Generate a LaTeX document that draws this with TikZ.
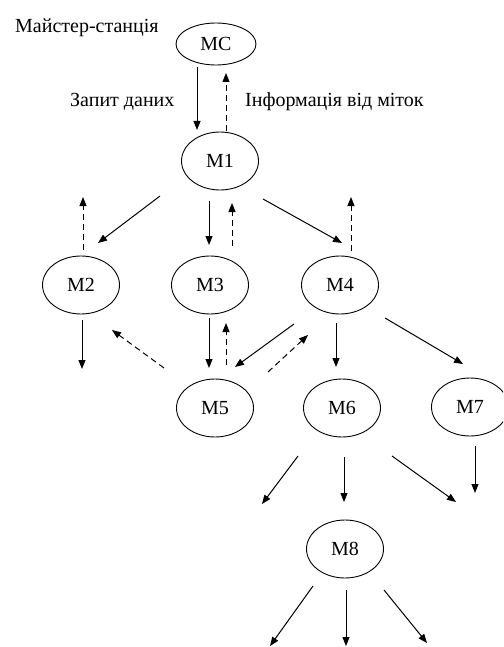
\documentclass[tikz,border=0pt]{standalone}
\usepackage{fontspec}
\setmainfont{Liberation Serif}
\usepackage{tikz}
\usetikzlibrary{shapes.geometric, arrows.meta, calc}

\begin{document}
\begin{tikzpicture}[x=1pt, y=-1pt,
    font=\fontsize{20}{23}\selectfont,
    tag/.style={draw, ellipse, line width=0.9pt, inner sep=0pt,
        minimum width=77pt, minimum height=58pt},
    label/.style={anchor=west, inner sep=0pt},
    req/.style={line width=1pt, -{Triangle[length=9pt,width=7pt]}},
    resp/.style={req, dash pattern=on 6pt off 4pt}]
    \useasboundingbox (0,0) rectangle (503,647);
    \clip (0,0) rectangle (503,647);

    \node[tag, minimum width=80pt, minimum height=42pt] (MC) at (216,44) {MC};
    \node[tag] (M1) at (220,161) {M1};
    \node[tag] (M2) at (81,285) {M2};
    \node[tag] (M3) at (210,285) {M3};
    \node[tag] (M4) at (340,285) {M4};
    \node[tag] (M5) at (215,408) {M5};
    \node[tag] (M6) at (342,408) {M6};
    \node[tag] (M7) at (470,407) {M7};
    \node[tag] (M8) at (345,549) {M8};

    \node[label] (master) at (15,28) {Майстер-станція};
    \node[label] (request) at (70,102) {Запит даних};
    \node[label] (info) at (245,102) {Інформація від міток};

    \coordinate (M2up) at (83,197);
    \coordinate (M2down) at (82,369);
    \coordinate (M4up) at (351,197);
    \coordinate (M6left) at (262,504);
    \coordinate (M6right) at (456,502);
    \coordinate (M7down) at (475,493);
    \coordinate (M8left) at (270,646);
    \coordinate (M8mid) at (346,646);
    \coordinate (M8right) at (427,643);

    \draw[req] ($(MC)+(-19,23)$) -- ($(M1)+(-23,-31)$);
    \draw[resp] ($(M1)+(6,-30)$) -- ($(MC)+(10,29)$);

    \draw[req] ($(M1)+(-60,35)$) -- ($(M2)+(17,-42)$);
    \draw[resp] ($(M2)+(2,-35)$) -- (M2up);
    \draw[req] ($(M1)+(-11,40)$) -- ($(M3)+(-1,-40)$);
    \draw[resp] ($(M3)+(22,-39)$) -- ($(M1)+(12,42)$);
    \draw[req] ($(M1)+(43,38)$) -- ($(M4)+(2,-42)$);
    \draw[resp] ($(M4)+(11,-34)$) -- (M4up);

    \draw[req] ($(M2)+(1,35)$) -- (M2down);
    \draw[resp] ($(M5)+(-51,-40)$) -- ($(M2)+(31,45)$);
    \draw[req] ($(M3)+(-1,33)$) -- ($(M5)+(-6,-40)$);
    \draw[resp] ($(M5)+(11,-43)$) -- ($(M3)+(16,38)$);
    \draw[req] ($(M4)+(-46,39)$) -- ($(M5)+(20,-41)$);
    \draw[resp] ($(M5)+(53,-36)$) -- ($(M4)+(-32,50)$);
    \draw[req] ($(M4)+(-4,38)$) -- ($(M6)+(-6,-41)$);
    \draw[req] ($(M4)+(45,33)$) -- ($(M7)+(-7,-43)$);

    \draw[req] ($(M6)+(-44,48)$) -- (M6left);
    \draw[req] ($(M6)+(2,49)$) -- ($(M8)+(-1,-47)$);
    \draw[req] ($(M6)+(50,48)$) -- (M6right);
    \draw[req] ($(M7)+(5,39)$) -- (M7down);

    \draw[req] ($(M8)+(-32,37)$) -- (M8left);
    \draw[req] ($(M8)+(1,41)$) -- (M8mid);
    \draw[req] ($(M8)+(39,41)$) -- (M8right);
\end{tikzpicture}
\end{document}
